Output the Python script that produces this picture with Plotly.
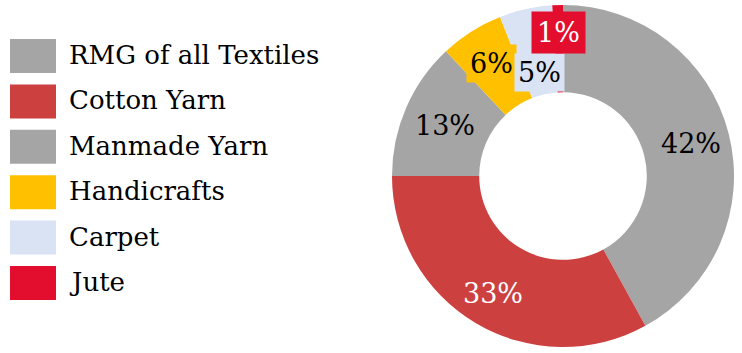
import math
import plotly.graph_objects as go

categories = ["RMG of all Textiles", "Cotton Yarn", "Manmade Yarn", "Handicrafts", "Carpet", "Jute"]
shares = [42, 33, 13, 6, 5, 1]
colors = ["#A5A5A5", "#CD4040", "#A5A5A5", "#FFC000", "#DAE3F3", "#E30D2E"]
label_font_colors = ["black", "white", "black", "black", "black", "white"]
label_boxed = [False, False, False, True, True, True]
label_pad = [0, 0, 0, 3, 3, 5]
label_radius = [0.77, 0.80, 0.75, 0.78, 0.62, 0.84]

W, H = 742, 353
cx, cy, R = 563, 177, 171
FONT = "DejaVu Serif"

fig = go.Figure()
fig.add_trace(go.Pie(
    labels=categories, values=shares, sort=False, direction="clockwise", rotation=0,
    hole=0.49, marker=dict(colors=colors, line=dict(width=0)), textinfo="none",
    showlegend=False,
    domain=dict(x=[(cx - R) / W, (cx + R) / W], y=[(cy - R) / H, (cy + R) / H]),
))

annotations = []
shapes = []
total = sum(shares)
cum = 0
for i, (cat, v) in enumerate(zip(categories, shares)):
    mid = (cum + v / 2) / total * 2 * math.pi
    cum += v
    r = label_radius[i] * R
    x = (cx + r * math.sin(mid)) / W
    y = (cy + r * math.cos(mid)) / H
    ann = dict(x=x, y=y, xref="paper", yref="paper", text=f"{v}%", showarrow=False,
               font=dict(family=FONT, size=27, color=label_font_colors[i]),
               xanchor="center", yanchor="middle")
    if label_boxed[i]:
        ann.update(bgcolor=colors[i], borderpad=label_pad[i])
    annotations.append(ann)

# legend
for i, (cat, col) in enumerate(zip(categories, colors)):
    yc = 56 + i * 45.4
    shapes.append(dict(type="rect", xref="paper", yref="paper",
                       x0=10 / W, x1=56 / W, y0=1 - (yc + 17) / H, y1=1 - (yc - 17) / H,
                       fillcolor=col, line=dict(width=0)))
    annotations.append(dict(x=67 / W, y=1 - (yc - 1) / H, xref="paper", yref="paper",
                            text=cat, showarrow=False, xanchor="left", yanchor="middle",
                            font=dict(family=FONT, size=26, color="black")))

fig.update_layout(
    width=W, height=H, margin=dict(l=0, r=0, t=0, b=0),
    paper_bgcolor="white", plot_bgcolor="white",
    annotations=annotations, shapes=shapes,
)
fig.write_html("out.html")
